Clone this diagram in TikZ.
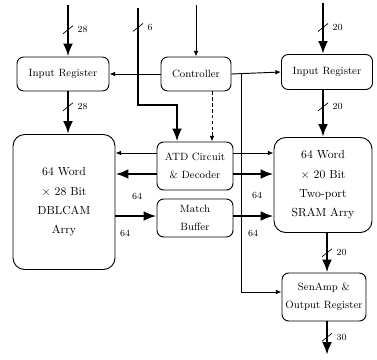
\documentclass[tikz,border=0pt]{standalone}
\usetikzlibrary{arrows.meta,positioning}

\begin{document}
\begin{tikzpicture}[x=0.03cm, y=-0.03cm, >=Latex]

\tikzset{
  block/.style={
    rectangle, rounded corners=2mm,
    draw, line width=0.8pt, align=center,
    inner sep=1pt, font=\small\setlength{\baselineskip}{15pt}
  },
  arraybox/.style={
    block, rounded corners=3.5mm,
    font=\normalsize\setlength{\baselineskip}{16.5pt}
  },
  arrow/.style={-{Latex[length=1.7mm,width=1.4mm]}, line width=0.8pt},
  dashedarrow/.style={arrow, densely dashed},
  busarrow/.style={-{Latex[length=3.9mm,width=3mm]}, line width=2.4pt},
  lbl/.style={font=\footnotesize, inner sep=1pt},
  bus/.pic={\draw[-, line width=0.6pt] (-5,4) -- (5,-4);}
}

\useasboundingbox (0,0) rectangle (377,359);

% ==========================
% Boxes
% ==========================
\node[block, minimum width=2.76cm, minimum height=1.02cm] (inregA) at (63,74) {Input Register};
\node[block, minimum width=2.1cm, minimum height=1.02cm] (ctrl) at (196,74) {Controller};
\node[block, minimum width=2.73cm, minimum height=1.05cm] (inregB) at (327,72) {Input Register};

\node[arraybox, minimum width=3.06cm, minimum height=4.05cm] (cam) at (64,202) {64 Word\\$\times$ 28 Bit\\DBLCAM\\Arry};
\node[block, minimum width=2.28cm, minimum height=1.44cm] (atd) at (195,166) {ATD Circuit\\\& Decoder};
\node[block, minimum width=2.28cm, minimum height=1.14cm] (mbuf) at (195,218) {Match\\Buffer};
\node[arraybox, minimum width=2.94cm, minimum height=2.85cm] (sram) at (323,185) {64 Word\\$\times$ 20 Bit\\Two-port\\SRAM Arry};
\node[block, minimum width=2.52cm, minimum height=1.44cm] (senamp) at (324,297) {SenAmp \&\\Output Register};

% ==========================
% Wire ends and rows
% ==========================
\coordinate (inA) at (68,5);
\coordinate (inB) at (323,3);
\coordinate (inC) at (196,5);
\coordinate (in6) at (138,8);
\coordinate (bend6) at (177,105);
\coordinate (dtap) at (212,0);
\coordinate (vtap) at (241,73);
\coordinate (outC) at (327,355);
\coordinate (rowA) at (0,153);
\coordinate (rowB) at (0,174);
\coordinate (rowC) at (0,216);
\coordinate (rowD) at (0,292);

% Inputs and registers
\draw[busarrow] (inA) -- (inA |- inregA.north) pic[pos=.48]{bus} node[pos=.48, lbl, right=6pt]{28};
\draw[busarrow] (inregA.south -| inA) -- (inA |- cam.north) pic[pos=.36]{bus} node[pos=.36, lbl, right=6pt]{28};
\draw[busarrow] (inB) -- (inB |- inregB.north) pic[pos=.48]{bus} node[pos=.48, lbl, right=6pt]{20};
\draw[busarrow] (inregB.south -| inB) -- (inB |- sram.north) pic[pos=.36]{bus} node[pos=.36, lbl, right=6pt]{20};

% Controller
\draw[arrow] (inC) -- (ctrl.north);
\draw[arrow] (ctrl.west) -- (inregA.east);
\draw[arrow] (ctrl.east) -- (inregB.west);
\draw[dashedarrow] (ctrl.south -| dtap) -- (atd.north -| dtap);
\draw[arrow] (vtap) |- (senamp.west |- rowD);

% Address bus to ATD
\draw[busarrow] (in6) |- (bend6) pic[pos=.1]{bus} node[pos=.1, lbl, right=6pt]{6} -- (bend6 |- atd.north);

% ATD / match buffer to the arrays
\draw[arrow] (atd.west |- rowA) -- (cam.east |- rowA);
\draw[busarrow] (atd.west |- rowB) -- (cam.east |- rowB);
\draw[busarrow] (cam.east |- rowC) -- (mbuf.west |- rowC);
\draw[arrow] (atd.east |- rowA) -- (sram.west |- rowA);
\draw[busarrow] (atd.east |- rowB) -- (sram.west |- rowB);
\draw[busarrow] (mbuf.east |- rowC) -- (sram.west |- rowC);

\node[lbl] (wA) at (137,196) {64};
\node[lbl] (wB) at (125,233) {64};
\node[lbl] (wC) at (257,195) {64};
\node[lbl] (wD) at (253,233) {64};

% Outputs
\draw[busarrow] (sram.south -| outC) -- (senamp.north -| outC) pic[pos=.5]{bus} node[pos=.5, lbl, right=6pt]{20};
\draw[busarrow] (senamp.south -| outC) -- (outC) pic[pos=.47]{bus} node[pos=.47, lbl, right=6pt]{30};

\end{tikzpicture}
\end{document}
